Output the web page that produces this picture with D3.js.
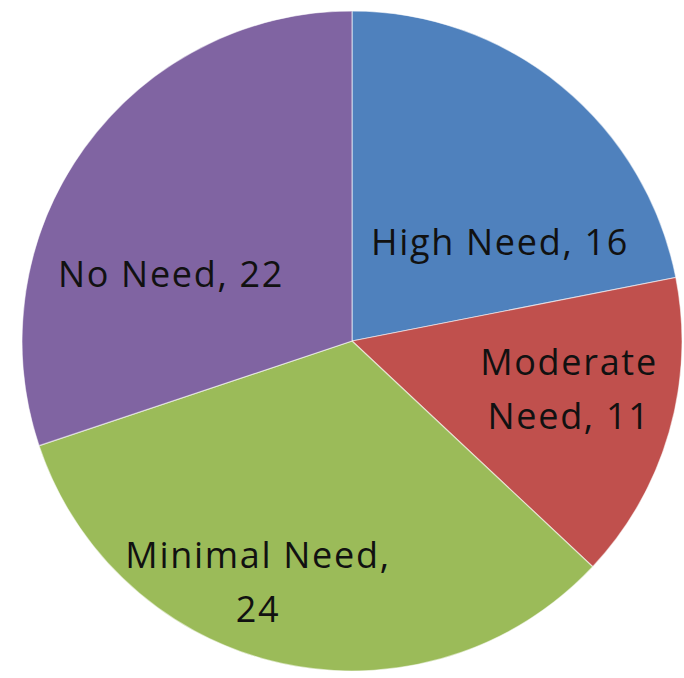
<!DOCTYPE html>
<html><head><meta charset="utf-8">
<script src="https://cdn.jsdelivr.net/npm/d3@7"></script>
<style>html,body{margin:0;padding:0;background:#fff;}</style>
</head><body>
<svg id="chart" width="684" height="678"></svg>
<script>
const categories = ["High Need", "Moderate Need", "Minimal Need", "No Need"];
const values = [16, 11, 24, 22];
const colors = ["#4F81BD", "#C0504D", "#9BBB59", "#8064A2"];
// label lines and label anchor positions (pixel positions)
const labelLines = [["High Need, 16"], ["Moderate", "Need, 11"], ["Minimal Need,", "24"], ["No Need, 22"]];
const labelPos = [[500, 255], [569, 375], [258, 568], [171, 287]];

const svg = d3.select("#chart");
const cx = 352, cy = 341, r = 330;
const g = svg.append("g").attr("transform", `translate(${cx},${cy})`);

const data = categories.map((c, i) => ({cat: c, value: values[i], i}));
const pie = d3.pie().value(d => d.value).sort(null);
const arc = d3.arc().innerRadius(0).outerRadius(r);

g.selectAll("path").data(pie(data)).join("path")
  .attr("d", arc)
  .attr("fill", d => colors[d.data.i])
  .attr("stroke", "rgba(255,255,255,0.55)")
  .attr("stroke-width", 1.2);

const lineH = 54;
data.forEach((d, i) => {
  const t = svg.append("text")
    .attr("x", labelPos[i][0]).attr("y", labelPos[i][1])
    .attr("text-anchor", "middle")
    .attr("font-family", "'Open Sans', sans-serif")
    .attr("font-size", 36)
    .attr("letter-spacing", 1.7)
    .attr("fill", "#111");
  labelLines[i].forEach((ln, k) => {
    t.append("tspan").attr("x", labelPos[i][0]).attr("y", labelPos[i][1] + k * lineH).text(ln);
  });
});
</script>
</body></html>
